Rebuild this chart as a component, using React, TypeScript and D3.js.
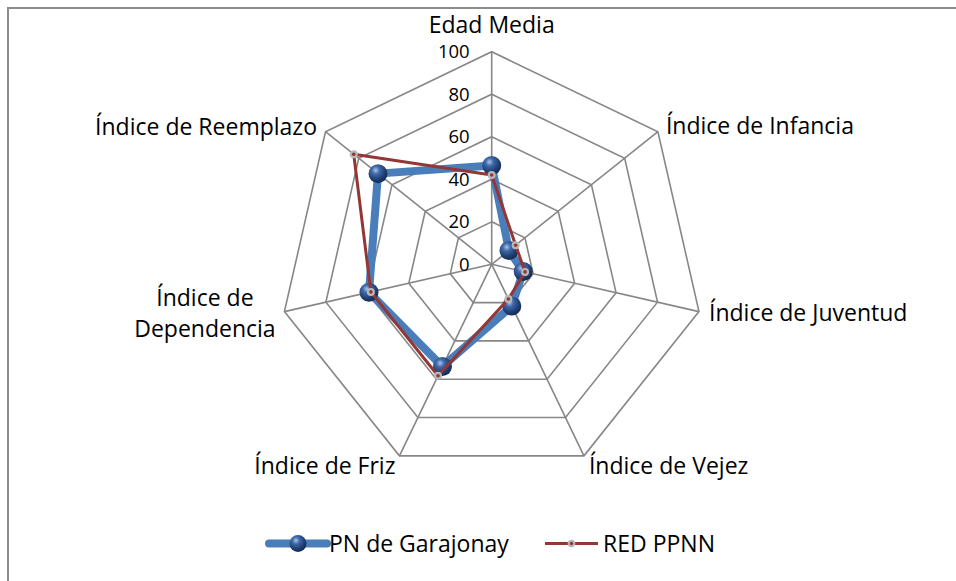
import React from "react";
import * as d3 from "d3";

const categories = [
  "Edad Media",
  "Índice de Infancia",
  "Índice de Juventud",
  "Índice de Vejez",
  "Índice de Friz",
  "Índice de Dependencia",
  "Índice de Reemplazo",
];
const garajonay = [46.5, 10.4, 15.2, 21.8, 53.4, 59.2, 68.4];
const redPPNN = [42, 14.4, 16.1, 18.1, 58.2, 58.3, 83.0];
const ticks = [0, 20, 40, 60, 80, 100];
const seriesNames = ["PN de Garajonay", "RED PPNN"];

const W = 956;
const H = 581;
const cx = 491.7;
const cy = 264.3;
const R = 212.6;
const FONT = "'Open Sans', 'Noto Sans', sans-serif";
const GRID = "#878787";
const BLUE = "#4a7ebb";
const RED = "#943634";
const LABEL_SIZE = 23;

// label placement per axis: [anchor, dx, dy, lines]
const labelCfg: [string, number, number, string[]][] = [
  ["middle", 0, -18.5, ["Edad Media"]],
  ["start", 8, 2.5, ["Índice de Infancia"]],
  ["start", 10, 9.5, ["Índice de Juventud"]],
  ["start", 5, 18, ["Índice de Vejez"]],
  ["end", -4, 18, ["Índice de Friz"]],
  ["middle", -79.5, -5.5, ["Índice de", "Dependencia"]],
  ["end", -8.5, 3.3, ["Índice de Reemplazo"]],
];

export default function App() {
  const n = categories.length;
  const r = d3.scaleLinear().domain([0, 100]).range([0, R]);
  const ang = (i: number) => (i * 2 * Math.PI) / n;
  const pt = (i: number, v: number): [number, number] => [
    cx + r(v) * Math.sin(ang(i)),
    cy - r(v) * Math.cos(ang(i)),
  ];
  const closed = d3.line().curve(d3.curveLinearClosed);

  const gridRings = ticks.filter((t) => t > 0);
  const bluePts = garajonay.map((v, i) => pt(i, v));
  const redPts = redPPNN.map((v, i) => pt(i, v));

  return (
    <svg
      width={W}
      height={H}
      style={{ position: "absolute", left: 0, top: 0, background: "#fff" }}
      fontFamily={FONT}
    >
      <defs>
        <radialGradient id="sph" cx="38%" cy="32%" r="70%">
          <stop offset="0%" stopColor="#a9c4ec" />
          <stop offset="30%" stopColor="#3f69a8" />
          <stop offset="75%" stopColor="#1d3b6e" />
          <stop offset="100%" stopColor="#142a52" />
        </radialGradient>
      </defs>
      <rect x={0} y={0} width={W} height={H} fill="#fff" />
      <rect x={8} y={8} width={W + 20} height={H + 20} fill="none" stroke="#8c8c8c" strokeWidth={2} />

      {/* grid rings */}
      {gridRings.map((t) => (
        <path
          key={t}
          d={closed(categories.map((_, i) => pt(i, t)))!}
          fill="none"
          stroke={GRID}
          strokeWidth={1.6}
        />
      ))}
      {/* spokes */}
      {categories.map((_, i) => {
        const [x, y] = pt(i, 100);
        return <line key={i} x1={cx} y1={cy} x2={x} y2={y} stroke={GRID} strokeWidth={1.6} />;
      })}

      {/* tick labels */}
      {ticks.map((t) => (
        <text
          key={t}
          x={cx - 22}
          y={cy - r(t)}
          dy="0.35em"
          textAnchor="end"
          fontSize={18.5}
          fill="#000"
        >
          {t}
        </text>
      ))}

      {/* category labels */}
      {categories.map((c, i) => {
        const [vx, vy] = pt(i, 100);
        const [anchor, dx, dy, lines] = labelCfg[i];
        return (
          <text key={c} x={vx + dx} y={vy + dy} textAnchor={anchor as any} fontSize={LABEL_SIZE} fill="#000">
            {lines.map((l, j) => (
              <tspan key={j} x={vx + dx} dy={j === 0 ? 0 : 31}>
                {l}
              </tspan>
            ))}
          </text>
        );
      })}

      {/* blue series */}
      <path
        d={closed(bluePts)!}
        fill="none"
        stroke={BLUE}
        strokeWidth={8}
        strokeLinejoin="round"
      />
      {bluePts.map(([x, y], i) => (
        <circle key={i} cx={x} cy={y} r={9.5} fill="url(#sph)" />
      ))}

      {/* red series */}
      <path d={closed(redPts)!} fill="none" stroke={RED} strokeWidth={3} strokeLinejoin="round" />
      {redPts.map(([x, y], i) => (
        <g key={i}>
          <circle cx={x} cy={y} r={4} fill="#b8b8b8" />
          <circle cx={x} cy={y} r={1.8} fill={RED} />
        </g>
      ))}

      {/* legend */}
      <g>
        <line x1={269} y1={543.5} x2={327} y2={543.5} stroke={BLUE} strokeWidth={8} strokeLinecap="round" />
        <circle cx={298} cy={543.5} r={8.5} fill="url(#sph)" />
        <text x={329} y={551.5} fontSize={LABEL_SIZE} fill="#000">
          {seriesNames[0]}
        </text>
        <line x1={545} y1={543.5} x2={598} y2={543.5} stroke={RED} strokeWidth={3} />
        <circle cx={571.5} cy={543.5} r={3.8} fill="#b8b8b8" />
        <circle cx={571.5} cy={543.5} r={1.7} fill={RED} />
        <text x={603} y={551.5} fontSize={LABEL_SIZE} fill="#000">
          {seriesNames[1]}
        </text>
      </g>
    </svg>
  );
}
